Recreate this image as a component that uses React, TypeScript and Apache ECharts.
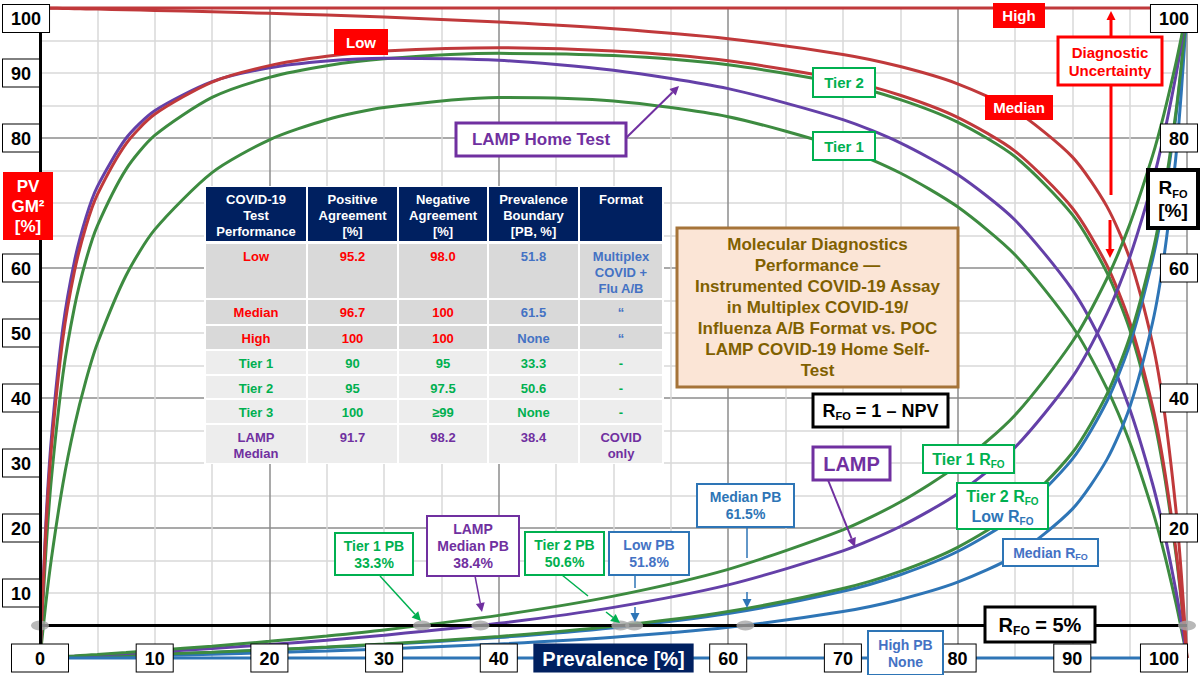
import { useEffect, useRef } from 'react';
import * as echarts from 'echarts';

const FONT = '"Liberation Sans", Arial, Helvetica, sans-serif';
const RED = '#C0393B';
const GREEN = '#3D8B40';
const PURPLE = '#6440A8';
const BLUE = '#2E75B6';
const T_RED = '#FF0000';
const T_BLUE = '#4472C4';
const T_GREEN = '#00B050';
const T_PURPLE = '#7030A0';

// Prevalence [%] sample points
const prevalence = [0, 0.5, 1, 2, 3, 4, 5, 7.5, 10, 15, 20, 25, 30, 40, 50, 60, 70, 75, 80, 85, 90, 93, 95, 97, 98, 99, 99.5, 100];

// PV GM^2 [%]
const pvLow = [0, 19.3, 32.45, 49.23, 59.46, 66.35, 71.29, 79.11, 83.64, 88.6, 91.13, 92.56, 93.37, 93.88, 93.37, 91.87, 88.94, 86.58, 83.18, 77.99, 69.24, 60.48, 51.74, 38.68, 29.4, 17.09, 9.3, 0];
const pvMedian = [100, 99.98, 99.97, 99.93, 99.9, 99.86, 99.83, 99.73, 99.63, 99.42, 99.18, 98.91, 98.61, 97.85, 96.81, 95.28, 92.85, 90.99, 88.34, 84.25, 77.1, 69.52, 61.46, 48.38, 38.21, 23.44, 13.04, 0];
const pvTier1 = [0, 8.29, 15.37, 26.81, 35.65, 42.67, 48.38, 58.84, 65.9, 74.67, 79.72, 82.81, 84.7, 86.25, 85.71, 83.28, 78.41, 74.62, 69.41, 62.03, 51.04, 41.52, 33.24, 22.67, 16.22, 8.75, 4.55, 0];
const pvTier2 = [0, 16.03, 27.72, 43.63, 53.94, 61.16, 66.49, 75.18, 80.39, 86.24, 89.33, 91.12, 92.19, 93.02, 92.68, 91.26, 88.32, 85.91, 82.44, 77.13, 68.22, 59.36, 50.58, 37.59, 28.45, 16.45, 8.92, 0];
const pvLamp = [0, 20.37, 33.95, 50.89, 61.01, 67.74, 72.51, 79.96, 84.2, 88.67, 90.8, 91.85, 92.28, 91.96, 90.43, 87.6, 82.83, 79.25, 74.37, 67.38, 56.67, 47.04, 38.33, 26.77, 19.44, 10.67, 5.61, 0];

// R_FO [%]
const rfoLow = [0, 0.03, 0.05, 0.1, 0.15, 0.2, 0.26, 0.4, 0.54, 0.86, 1.21, 1.61, 2.06, 3.16, 4.67, 6.84, 10.26, 12.81, 16.38, 21.73, 30.59, 39.42, 48.2, 61.3, 70.59, 82.9, 90.7, 100];
const rfoMedian = [0, 0.02, 0.03, 0.07, 0.1, 0.14, 0.17, 0.27, 0.37, 0.58, 0.82, 1.09, 1.39, 2.15, 3.19, 4.72, 7.15, 9.01, 11.66, 15.75, 22.9, 30.48, 38.54, 51.62, 61.79, 76.56, 86.96, 100];
const rfoTier1 = [0, 0.05, 0.11, 0.21, 0.32, 0.44, 0.55, 0.85, 1.16, 1.82, 2.56, 3.39, 4.32, 6.56, 9.52, 13.64, 19.72, 24, 29.63, 37.36, 48.65, 58.31, 66.67, 77.29, 83.76, 91.24, 95.44, 100];
const rfoTier2 = [0, 0.03, 0.05, 0.11, 0.16, 0.21, 0.27, 0.41, 0.57, 0.9, 1.27, 1.68, 2.15, 3.31, 4.88, 7.14, 10.69, 13.33, 17.02, 22.52, 31.58, 40.52, 49.35, 62.38, 71.53, 83.54, 91.08, 100];
const rfoLamp = [0, 0.04, 0.09, 0.17, 0.26, 0.35, 0.44, 0.68, 0.93, 1.47, 2.07, 2.74, 3.5, 5.33, 7.79, 11.25, 16.47, 20.23, 25.27, 32.39, 43.2, 52.9, 61.63, 73.21, 80.55, 89.32, 94.39, 100];

// High test: flat curves
const highX = [0, 100];
const pvHigh = [100, 100];
const rfoHigh = [0, 0];

// R_FO = 5% limit and prevalence boundaries
const rfoLimitX = [0, 100];
const rfoLimit = [5, 5];
const pbPrevalence = [0, 33.3, 38.4, 50.6, 51.8, 61.5, 100];

// tick labels
const bottomLabels = [0, 10, 20, 30, 40, 60, 70, 80, 90, 100];
const bottomTitleAt = 50;
const leftLabels = [10, 20, 30, 40, 50, 60, 80, 90, 100];
const rightLabels = [20, 40, 60, 80, 100];

// table
const tableHeader = ['COVID-19\nTest\nPerformance', 'Positive\nAgreement\n[%]', 'Negative\nAgreement\n[%]', 'Prevalence\nBoundary\n[PB, %]', 'Format'];
const tableRows = [
  ['Low', '95.2', '98.0', '51.8', 'Multiplex\nCOVID +\nFlu A/B'],
  ['Median', '96.7', '100', '61.5', '\u201C'],
  ['High', '100', '100', 'None', '\u201C'],
  ['Tier 1', '90', '95', '33.3', '-'],
  ['Tier 2', '95', '97.5', '50.6', '-'],
  ['Tier 3', '100', '\u226599', 'None', '-'],
  ['LAMP\nMedian', '91.7', '98.2', '38.4', 'COVID\nonly'],
];
const tableRowColors = [
  [T_RED, T_RED, T_RED, T_BLUE, T_BLUE],
  [T_RED, T_RED, T_RED, T_BLUE, T_BLUE],
  [T_RED, T_RED, T_RED, T_BLUE, T_BLUE],
  [T_GREEN, T_GREEN, T_GREEN, T_GREEN, T_GREEN],
  [T_GREEN, T_GREEN, T_GREEN, T_GREEN, T_GREEN],
  [T_GREEN, T_GREEN, T_GREEN, T_GREEN, T_GREEN],
  [T_PURPLE, T_PURPLE, T_PURPLE, T_PURPLE, T_PURPLE],
];

const titleText = 'Molecular Diagnostics\nPerformance \u2014\nInstrumented COVID-19 Assay\nin Multiplex COVID-19/\nInfluenza A/B Format vs. POC\nLAMP COVID-19 Home Self-\nTest';

function buildGraphics() {
  const g: any[] = [];
  const Z = 100;
  const rect = (x: number, y: number, w: number, h: number, fill: string, stroke?: string, lw = 0) => {
    const style: any = { fill };
    if (stroke) { style.stroke = stroke; style.lineWidth = lw; }
    g.push({ type: 'rect', z: Z, shape: { x, y, width: w, height: h }, style });
  };
  const text = (x: number, y: number, t: string, color: string, size: number, extra: any = {}) => {
    g.push({
      type: 'text', z: Z + 1, x, y,
      style: { text: t, fill: color, fontSize: size, fontWeight: 'bold', fontFamily: FONT, align: 'center', verticalAlign: 'middle', ...extra },
    });
  };
  const box = (x: number, y: number, w: number, h: number, fill: string, stroke: string | undefined, lw: number, t: string, color: string, size: number, extra: any = {}) => {
    rect(x, y, w, h, fill, stroke, lw);
    text(x + w / 2, y + h / 2, t, color, size, extra);
  };
  const arrow = (x1: number, y1: number, x2: number, y2: number, color: string, w: number, head = true) => {
    const dx = x2 - x1, dy = y2 - y1;
    const len = Math.hypot(dx, dy);
    const ux = dx / len, uy = dy / len;
    const L = head ? 9 : 0, W = 4.5;
    const bx = x2 - ux * L, by = y2 - uy * L;
    g.push({ type: 'line', z: Z, shape: { x1, y1, x2: bx, y2: by }, style: { stroke: color, lineWidth: w } });
    if (head) {
      g.push({ type: 'polygon', z: Z, shape: { points: [[x2, y2], [bx - uy * W, by + ux * W], [bx + uy * W, by - ux * W]] }, style: { fill: color } });
    }
  };
  const sub = (color: string, big: number, small: number) => ({
    r: { fill: color, fontSize: big, fontWeight: 'bold', fontFamily: FONT, lineHeight: big + 4 },
    s: { fill: color, fontSize: small, fontWeight: 'bold', fontFamily: FONT, verticalAlign: 'bottom', lineHeight: small + 1 },
  });

  // table
  const cols = [205, 307, 398, 488, 579, 663];
  const rows = [[187, 241], [244, 298], [300, 324], [326, 349], [351, 374], [376, 398], [400, 423], [425, 463]];
  rect(204, 186, 460, 278, '#FFFFFF');
  for (let r = 0; r < rows.length; r++) {
    const [top, bot] = rows[r];
    const bg = r === 0 ? '#002060' : r <= 3 ? '#D9D9D9' : '#EDEDED';
    for (let c = 0; c < 5; c++) {
      rect(cols[c] + 1, top, cols[c + 1] - cols[c] - 2, bot - top, bg);
      const t = r === 0 ? tableHeader[c] : tableRows[r - 1][c];
      const col = r === 0 ? '#FFFFFF' : tableRowColors[r - 1][c];
      text((cols[c] + cols[c + 1]) / 2, top + 4, t, col, 13, { verticalAlign: 'top', lineHeight: 16 });
    }
  }

  // curve labels
  box(993, 3, 52, 25, '#FF0000', undefined, 0, 'High', '#FFFFFF', 15);
  box(334, 29, 54, 26, '#FF0000', undefined, 0, 'Low', '#FFFFFF', 15);
  box(985, 95, 68, 25, '#FF0000', undefined, 0, 'Median', '#FFFFFF', 15);
  box(813, 68, 62, 29, '#FFFFFF', T_GREEN, 2, 'Tier 2', T_GREEN, 15);
  box(813, 132, 62, 28, '#FFFFFF', T_GREEN, 2, 'Tier 1', T_GREEN, 15);

  // diagnostic uncertainty
  box(1058, 37, 104, 48, '#FFFFFF', '#FF0000', 3, 'Diagnostic\nUncertainty', '#FF0000', 15, { lineHeight: 18 });
  arrow(1111, 37, 1111, 11, '#FF0000', 3);
  arrow(1111, 85, 1111, 195, '#FF0000', 3, false);
  arrow(1110, 220, 1110, 258, '#FF0000', 3);

  // LAMP home test
  box(456, 123, 170, 33, '#FFFFFF', T_PURPLE, 3, 'LAMP Home Test', T_PURPLE, 17);
  arrow(626, 138, 679, 86, T_PURPLE, 2);

  // title box
  box(677, 228, 281, 159, '#FBE5D6', '#A67439', 3, titleText, '#806000', 17, { lineHeight: 21 });

  // RFO = 1 - NPV
  box(813, 394, 135, 33, '#FFFFFF', '#000000', 3, '{r|R}{s|FO}{r| = 1 \u2013 NPV}', '#000', 18, { rich: sub('#000000', 18, 11) });

  // LAMP RFO label
  box(813, 447, 77, 33, '#FFFFFF', T_PURPLE, 3, 'LAMP', T_PURPLE, 20);
  arrow(828, 480, 855, 547, T_PURPLE, 2);

  // RFO labels
  box(923, 445, 91, 28, '#FFFFFF', T_GREEN, 2, '{r|Tier 1 R}{s|FO}', T_GREEN, 16, { rich: sub(T_GREEN, 16, 10) });
  box(957, 483, 91, 46, '#FFFFFF', T_GREEN, 2, '{r|Tier 2 R}{s|FO}\n{b|Low R}{bs|FO}', T_GREEN, 16, {
    rich: {
      ...sub(T_GREEN, 16, 10),
      b: { fill: BLUE, fontSize: 16, fontWeight: 'bold', fontFamily: FONT, lineHeight: 20 },
      bs: { fill: BLUE, fontSize: 10, fontWeight: 'bold', fontFamily: FONT, verticalAlign: 'bottom', lineHeight: 11 },
    },
  });
  box(1003, 539, 95, 27, '#FFFFFF', BLUE, 2, '{r|Median R}{s|FO}', T_BLUE, 14, { rich: sub(T_BLUE, 14, 9) });

  // RFO = 5%
  box(985, 607, 110, 35, '#FFFFFF', '#000000', 3, '{r|R}{s|FO}{r| = 5%}', '#000', 20, { rich: sub('#000000', 20, 12) });

  // PB labels
  box(868, 631, 75, 44, '#FFFFFF', BLUE, 2, 'High PB\nNone', T_BLUE, 14, { lineHeight: 17 });
  box(697, 484, 97, 43, '#FFFFFF', BLUE, 2, 'Median PB\n61.5%', BLUE, 14, { lineHeight: 17 });
  arrow(747, 527, 747, 558, BLUE, 1.5, false);
  arrow(747, 592, 747, 608, BLUE, 1.5);
  box(609, 532, 80, 43, '#FFFFFF', BLUE, 2, 'Low PB\n51.8%', T_BLUE, 14, { lineHeight: 17 });
  arrow(635, 575, 635, 588, BLUE, 1.5, false);
  arrow(635, 607, 635, 622, BLUE, 1.5);
  box(525, 532, 79, 43, '#FFFFFF', T_GREEN, 2, 'Tier 2 PB\n50.6%', T_GREEN, 14, { lineHeight: 17 });
  arrow(562, 575, 588, 596, T_GREEN, 1.5, false);
  arrow(606, 612, 620, 623, T_GREEN, 1.5);
  box(427, 516, 92, 60, '#FFFFFF', T_PURPLE, 2, 'LAMP\nMedian PB\n38.4%', T_PURPLE, 14, { lineHeight: 17 });
  arrow(475, 576, 482, 612, T_PURPLE, 1.5);
  box(335, 533, 78, 42, '#FFFFFF', T_GREEN, 2, 'Tier 1 PB\n33.3%', T_GREEN, 14, { lineHeight: 17 });
  arrow(380, 576, 421, 621, T_GREEN, 1.5);

  // axis title boxes
  box(3, 172, 50, 68, '#FF0000', undefined, 0, 'PV\nGM\u00B2\n[%]', '#FFFFFF', 17, { lineHeight: 20 });
  box(1148, 170, 50, 58, '#FFFFFF', '#000000', 4, '{r|R}{s|FO}\n{r|[%]}', '#000', 19, { rich: sub('#000000', 19, 11) });

  return g;
}

const tickBox = {
  fontSize: 18, fontWeight: 'bold', fontFamily: FONT, color: '#000000',
  backgroundColor: '#FFFFFF', borderColor: '#000000', borderWidth: 1,
  padding: [5, 8, 4, 8], lineHeight: 21,
};

const line = (name: string, xs: number[], ys: number[], color: string) => ({
  type: 'line', name, data: xs.map((x, i) => [x, ys[i]]),
  xAxisIndex: 0, yAxisIndex: 0,
  showSymbol: false, symbol: 'none', smooth: 0.25, clip: false, silent: true, z: 3,
  lineStyle: { color, width: 3 }, itemStyle: { color },
});

export default function App() {
  const ref = useRef<HTMLDivElement>(null);
  useEffect(() => {
    const chart = echarts.init(ref.current!, null, { renderer: 'svg' });
    const gridColors = ['#8C8C8C', '#D9D9D9', '#D9D9D9', '#D9D9D9'];
    chart.setOption({
      animation: false,
      backgroundColor: '#FFFFFF',
      grid: { left: 40, right: 13, top: 8, bottom: 17, containLabel: false, outerBoundsMode: 'none' },
      xAxis: [
        {
          type: 'value', min: 0, max: 100, interval: 5,
          axisLine: { show: false }, axisTick: { show: false }, axisLabel: { show: false },
          splitLine: { show: true, lineStyle: { color: gridColors, width: 1.5 } },
        },
        {
          type: 'value', min: 0, max: 100, interval: 10, position: 'bottom', z: 10,
          axisLine: { show: false }, axisTick: { show: false }, splitLine: { show: false },
          axisLabel: {
            show: true, margin: 0, verticalAlign: 'middle', alignMaxLabel: 'right',
            formatter: (v: number) => v === bottomTitleAt ? '{p|Prevalence [%]}' : bottomLabels.includes(v) ? (v === 0 ? `{z|${v}}` : `{t|${v}}`) : '',
            rich: {
              t: tickBox,
              z: { ...tickBox, padding: [5, 23, 4, 23] },
              p: { fontSize: 20, fontWeight: 'bold', fontFamily: FONT, color: '#FFFFFF', backgroundColor: '#002060', padding: [5, 9, 4, 9], lineHeight: 24 },
            },
          },
        },
      ],
      yAxis: [
        {
          type: 'value', min: 0, max: 100, interval: 5, position: 'left',
          axisLine: { show: false }, axisTick: { show: false }, axisLabel: { show: false },
          splitLine: { show: true, lineStyle: { color: gridColors, width: 1.5 } },
        },
        {
          type: 'value', min: 0, max: 100, interval: 10, position: 'left', z: 10,
          axisLine: { show: true, onZero: false, lineStyle: { color: '#000000', width: 3 } },
          axisTick: { show: false }, splitLine: { show: false },
          axisLabel: {
            show: true, align: 'left', margin: 37, verticalAlignMaxLabel: 'top',
            formatter: (v: number) => leftLabels.includes(v) ? `{t|${v}}` : '',
            rich: { t: tickBox },
          },
        },
        {
          type: 'value', min: 0, max: 100, interval: 10, position: 'right', z: 10,
          axisLine: { show: false }, axisTick: { show: false }, splitLine: { show: false },
          axisLabel: {
            show: true, align: 'right', margin: 10, verticalAlignMaxLabel: 'top',
            formatter: (v: number) => rightLabels.includes(v) ? `{t|${v}}` : '',
            rich: { t: tickBox },
          },
        },
      ],
      series: [
        line('Tier 1', prevalence, pvTier1, GREEN),
        line('Tier 2', prevalence, pvTier2, GREEN),
        line('LAMP', prevalence, pvLamp, PURPLE),
        line('Low', prevalence, pvLow, RED),
        line('Median', prevalence, pvMedian, RED),
        line('High', highX, pvHigh, RED),
        line('Median RFO', prevalence, rfoMedian, BLUE),
        line('Low RFO', prevalence, rfoLow, BLUE),
        line('Tier 2 RFO', prevalence, rfoTier2, GREEN),
        line('LAMP RFO', prevalence, rfoLamp, PURPLE),
        line('Tier 1 RFO', prevalence, rfoTier1, GREEN),
        line('High RFO', highX, rfoHigh, BLUE),
        {
          type: 'line', name: 'RFO 5%', data: rfoLimitX.map((x, i) => [x, rfoLimit[i]]),
          showSymbol: false, symbol: 'none', clip: false, silent: true, z: 4,
          lineStyle: { color: '#000000', width: 3 },
        },
        {
          type: 'scatter', name: 'PB', data: pbPrevalence.map((x) => [x, rfoLimit[0]]),
          symbol: 'circle', symbolSize: [18, 10], silent: true, z: 5,
          itemStyle: { color: '#A6A6A6' },
        },
      ],
      graphic: buildGraphics(),
    });
    return () => chart.dispose();
  }, []);
  return <div ref={ref} style={{ position: 'absolute', left: 0, top: 0, width: 1200, height: 675 }} />;
}
